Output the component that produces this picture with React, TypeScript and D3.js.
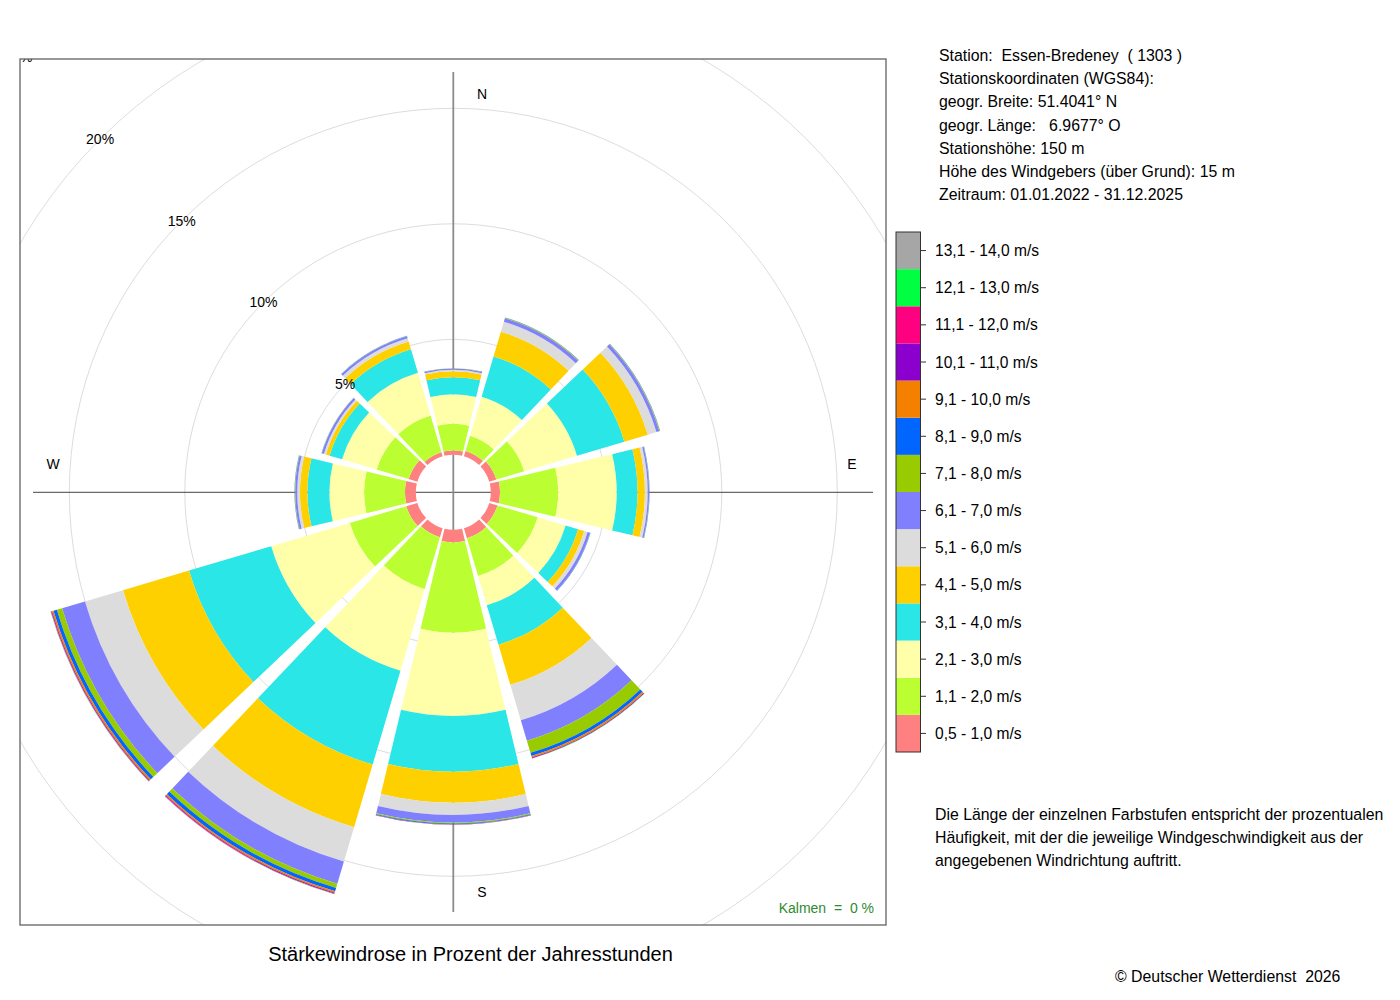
import * as d3 from "d3";

// wind directions (degrees, clockwise from north)
const DIRECTIONS = [0, 30, 60, 90, 120, 150, 180, 210, 240, 270, 300, 330];

const CLASS_LABELS = [
  "0,5 - 1,0 m/s",
  "1,1 - 2,0 m/s",
  "2,1 - 3,0 m/s",
  "3,1 - 4,0 m/s",
  "4,1 - 5,0 m/s",
  "5,1 - 6,0 m/s",
  "6,1 - 7,0 m/s",
  "7,1 - 8,0 m/s",
  "8,1 - 9,0 m/s",
  "9,1 - 10,0 m/s",
  "10,1 - 11,0 m/s",
  "11,1 - 12,0 m/s",
  "12,1 - 13,0 m/s",
  "13,1 - 14,0 m/s",
];

const CLASS_COLORS = [
  "#ff8080",
  "#bbff33",
  "#ffffaa",
  "#2ae6e6",
  "#ffd000",
  "#dcdcdc",
  "#8080ff",
  "#99cc00",
  "#0066ff",
  "#f58000",
  "#8b00cc",
  "#ff0080",
  "#00ff40",
  "#a6a6a6",
];

// percent of hours per direction sector, one array per speed class
const v0510 = [0.19, 0.24, 0.32, 0.4, 0.37, 0.45, 0.55, 0.41, 0.5, 0.47, 0.39, 0.19];
const v1120 = [1.15, 0.69, 1.26, 2.52, 1.82, 1.71, 3.9, 2.34, 2.55, 1.77, 1.45, 1.65];
const v2130 = [1.28, 1.76, 2.38, 2.53, 1.26, 1.32, 3.61, 3.68, 3.55, 1.5, 1.56, 1.93];
const v3140 = [0.74, 1.82, 2.14, 0.9, 0.56, 1.78, 2.41, 4.24, 3.71, 0.95, 0.56, 1.06];
const v4150 = [0.26, 1.12, 1.06, 0.32, 0.28, 1.81, 1.34, 2.83, 2.98, 0.32, 0.17, 0.35];
const v5160 = [0.06, 0.45, 0.39, 0.12, 0.15, 1.6, 0.53, 1.55, 1.72, 0.12, 0.09, 0.15];
const v6170 = [0.05, 0.15, 0.13, 0.06, 0.11, 0.92, 0.33, 1.0, 1.03, 0.09, 0.09, 0.09];
const v7180 = [0.01, 0.03, 0.03, 0.01, 0.01, 0.55, 0.04, 0.19, 0.24, 0.02, 0.01, 0.01];
const v8190 = [0.01, 0.01, 0.01, 0.01, 0.01, 0.14, 0.03, 0.15, 0.15, 0.01, 0.01, 0.01];
const v91100 = [0, 0, 0, 0, 0, 0.07, 0.01, 0.07, 0.07, 0, 0, 0];
const v101110 = [0, 0, 0, 0, 0, 0.03, 0.01, 0.03, 0.03, 0, 0, 0];
const v111120 = [0, 0, 0, 0, 0, 0.01, 0, 0.02, 0.02, 0, 0, 0];
const v121130 = [0, 0, 0, 0, 0, 0.01, 0, 0.01, 0.01, 0, 0, 0];
const v131140 = [0, 0, 0, 0, 0, 0, 0, 0.005, 0.005, 0, 0, 0];

const SERIES = [
  v0510, v1120, v2130, v3140, v4150, v5160, v6170,
  v7180, v8190, v91100, v101110, v111120, v121130, v131140,
];

const RINGS = [5, 10, 15, 20, 25];

const HEADER = [
  "Station:  Essen-Bredeney  ( 1303 )",
  "Stationskoordinaten (WGS84):",
  "geogr. Breite: 51.4041° N",
  "geogr. Länge:   6.9677° O",
  "Stationshöhe: 150 m",
  "Höhe des Windgebers (über Grund): 15 m",
  "Zeitraum: 01.01.2022 - 31.12.2025",
];

const NOTE = [
  "Die Länge der einzelnen Farbstufen entspricht der prozentualen",
  "Häufigkeit, mit der die jeweilige Windgeschwindigkeit aus der",
  "angegebenen Windrichtung auftritt.",
];

const FONT = "'Liberation Sans', Arial, Helvetica, sans-serif";

export default function App() {
  const width = 1400;
  const height = 1000;
  const cx = 453.3;
  const cy = 492.3;
  const box = { x: 20, y: 59, w: 866, h: 866 };

  const r = d3.scaleLinear().domain([0, 20]).range([37.5, 37.5 + 23.1 * 20]);

  const keys = SERIES.map((_, k) => "k" + k);
  const rows = DIRECTIONS.map((dir, i) => {
    const o: Record<string, number> = { dir };
    SERIES.forEach((s, k) => (o["k" + k] = s[i]));
    return o;
  });
  const stacked = d3.stack<Record<string, number>>().keys(keys)(rows);

  const arc = d3.arc<any>();
  const half = (13.5 * Math.PI) / 180;
  const rad = (deg: number) => (deg * Math.PI) / 180;

  const legendY = d3
    .scaleBand<string>()
    .domain(CLASS_LABELS.slice().reverse())
    .range([232, 752]);

  const labelAngle = rad(315);

  return (
    <svg
      width={width}
      height={height}
      style={{ position: "absolute", left: 0, top: 0, background: "#fff" }}
      fontFamily={FONT}
    >
      <defs>
        <clipPath id="plotclip">
          <rect x={box.x} y={box.y} width={box.w} height={box.h} />
        </clipPath>
      </defs>

      <g clipPath="url(#plotclip)">
        {RINGS.map((p) => (
          <circle
            key={p}
            cx={cx}
            cy={cy}
            r={r(p)}
            fill="none"
            stroke="#dddddd"
            strokeWidth={1}
          />
        ))}
        <line x1={33} x2={873} y1={cy} y2={cy} stroke="#444" strokeWidth={1} />
        <line x1={cx} x2={cx} y1={72} y2={912} stroke="#8c8c8c" strokeWidth={1.8} />

        <g transform={`translate(${cx},${cy})`}>
          {stacked.map((layer, k) =>
            layer.map((d, i) => {
              if (d[1] - d[0] <= 0) return null;
              const a = rad(DIRECTIONS[i]);
              return (
                <path
                  key={k + "-" + i}
                  d={
                    arc({
                      innerRadius: r(d[0]),
                      outerRadius: r(d[1]),
                      startAngle: a - half,
                      endAngle: a + half,
                    }) ?? ""
                  }
                  fill={CLASS_COLORS[k]}
                />
              );
            })
          )}
        </g>

        {RINGS.map((p) => (
          <text
            key={"l" + p}
            x={cx + r(p) * Math.sin(labelAngle)}
            y={cy - r(p) * Math.cos(labelAngle)}
            textAnchor="middle"
            dominantBaseline="central"
            fontSize={14}
            fill="#000"
          >
            {p}%
          </text>
        ))}

        <text x={482} y={99} textAnchor="middle" fontSize={14}>N</text>
        <text x={852} y={469} textAnchor="middle" fontSize={14}>E</text>
        <text x={482} y={897} textAnchor="middle" fontSize={14}>S</text>
        <text x={53} y={469} textAnchor="middle" fontSize={14}>W</text>

        <text
          x={874}
          y={913}
          textAnchor="end"
          fontSize={14}
          fill="#2e8b2e"
          style={{ whiteSpace: "pre" }}
        >
          {"Kalmen  =  0 %"}
        </text>
      </g>

      <rect
        x={box.x}
        y={box.y}
        width={box.w}
        height={box.h}
        fill="none"
        stroke="#555"
        strokeWidth={1.2}
      />

      <text x={470.5} y={961} textAnchor="middle" fontSize={20}>
        Stärkewindrose in Prozent der Jahresstunden
      </text>

      {HEADER.map((t, i) => (
        <text
          key={"h" + i}
          x={939}
          y={61 + i * 23.2}
          fontSize={15.85}
          style={{ whiteSpace: "pre" }}
        >
          {t}
        </text>
      ))}

      <g>
        {CLASS_LABELS.map((lab, k) => {
          const y = legendY(lab) ?? 0;
          const h = legendY.bandwidth();
          return (
            <g key={"lg" + k}>
              <rect x={896} y={y} width={24.5} height={h} fill={CLASS_COLORS[k]} />
              <line x1={920.5} x2={926} y1={y + h / 2} y2={y + h / 2} stroke="#333" />
              <text
                x={935}
                y={y + h / 2}
                dominantBaseline="central"
                fontSize={15.6}
              >
                {lab}
              </text>
            </g>
          );
        })}
        <rect
          x={896}
          y={232}
          width={24.5}
          height={520}
          fill="none"
          stroke="#333"
          strokeWidth={1}
        />
      </g>

      {NOTE.map((t, i) => (
        <text key={"n" + i} x={935} y={820 + i * 23} fontSize={15.85}>
          {t}
        </text>
      ))}

      <text x={1115} y={982} fontSize={15.85} style={{ whiteSpace: "pre" }}>
        {"© Deutscher Wetterdienst  2026"}
      </text>
    </svg>
  );
}
